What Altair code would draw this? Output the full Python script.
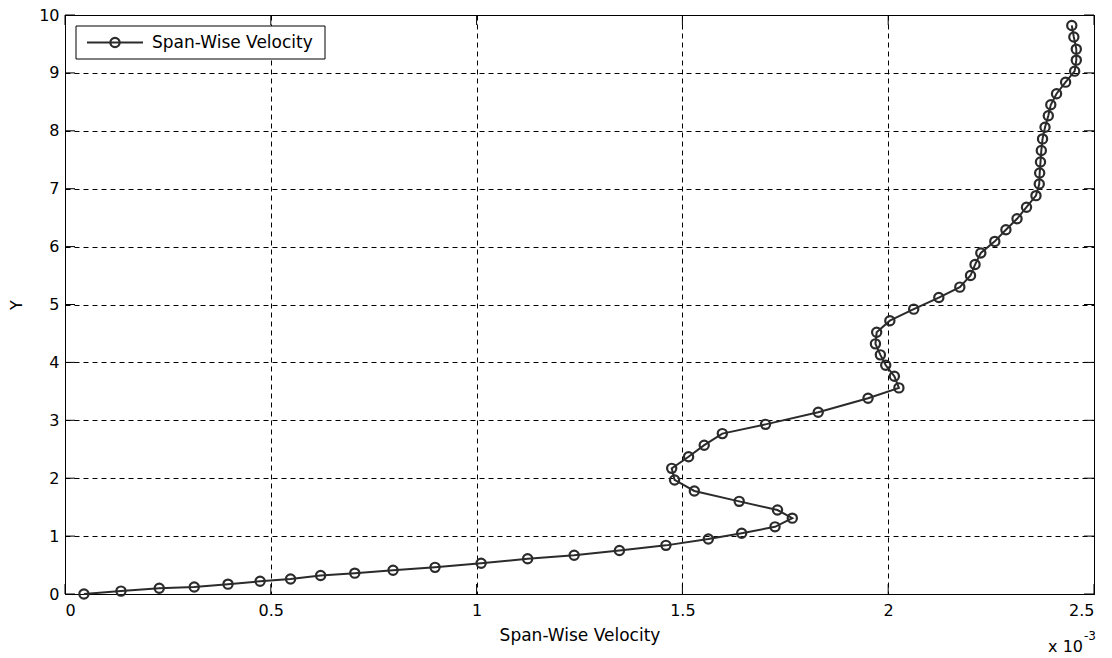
import altair as alt
import pandas as pd

# Span-wise velocity (in units of 1e-3) and Y, in path order
velocity = [0.046, 0.136, 0.229, 0.314, 0.396, 0.474, 0.548, 0.621, 0.704, 0.797,
            0.899, 1.011, 1.124, 1.237, 1.347, 1.460, 1.563, 1.644, 1.725, 1.767,
            1.731, 1.638, 1.529, 1.481, 1.474, 1.515, 1.553, 1.597, 1.702, 1.830,
            1.951, 2.026, 2.015, 1.994, 1.981, 1.969, 1.972, 2.004, 2.062, 2.123,
            2.174, 2.200, 2.211, 2.225, 2.259, 2.286, 2.313, 2.336, 2.359, 2.367,
            2.368, 2.370, 2.372, 2.375, 2.381, 2.389, 2.395, 2.409, 2.431, 2.453,
            2.457, 2.457, 2.451, 2.446]
y_vals = [0.00, 0.05, 0.10, 0.12, 0.17, 0.22, 0.26, 0.32, 0.36, 0.41,
          0.46, 0.53, 0.61, 0.67, 0.75, 0.84, 0.95, 1.05, 1.16, 1.31,
          1.45, 1.60, 1.78, 1.97, 2.17, 2.37, 2.57, 2.77, 2.93, 3.14,
          3.38, 3.56, 3.76, 3.95, 4.13, 4.32, 4.52, 4.72, 4.92, 5.12,
          5.30, 5.50, 5.69, 5.89, 6.09, 6.29, 6.48, 6.68, 6.88, 7.08,
          7.27, 7.46, 7.66, 7.86, 8.06, 8.26, 8.45, 8.64, 8.84, 9.03,
          9.22, 9.41, 9.62, 9.82]
x_ticks = [0, 0.5, 1, 1.5, 2, 2.5]
y_ticks = [0, 1, 2, 3, 4, 5, 6, 7, 8, 9, 10]
series_name = "Span-Wise Velocity"

W, H = 1029, 579
FONT = "DejaVu Sans"
INK = "#2b2b2b"

df = pd.DataFrame({"v": velocity, "y": y_vals, "i": list(range(len(velocity)))})
xt = pd.DataFrame({"t": x_ticks})
yt = pd.DataFrame({"t": y_ticks})
one = pd.DataFrame({"a": [0]})

xscale = alt.Scale(domain=[0, 2.5], nice=False, zero=False)
yscale = alt.Scale(domain=[0, 10], nice=False, zero=False)

x_axis = alt.Axis(values=x_ticks, labelExpr="'' + datum.value", grid=True,
                  gridDash=[5, 4], gridColor="black", gridOpacity=1, gridWidth=1,
                  tickSize=0, domain=False, labelPadding=8, titlePadding=9,
                  labelFont=FONT, labelFontSize=16, labelColor="black",
                  titleFont=FONT, titleFontSize=17, titleFontWeight="normal", titleColor="black")
y_axis = alt.Axis(values=y_ticks, format="d", grid=True,
                  gridDash=[5, 4], gridColor="black", gridOpacity=1, gridWidth=1,
                  tickSize=0, domain=False, labelPadding=6, titlePadding=14,
                  labelFont=FONT, labelFontSize=16, labelColor="black",
                  titleFont=FONT, titleFontSize=16, titleFontWeight="normal", titleColor="black")

base = alt.Chart(df).encode(
    x=alt.X("v:Q", scale=xscale, axis=x_axis, title="Span-Wise Velocity"),
    y=alt.Y("y:Q", scale=yscale, axis=y_axis, title="Y"),
    order="i:O",
)
line = base.mark_line(color=INK, strokeWidth=2)
pts = base.mark_point(shape="circle", filled=False, color=INK, size=85, strokeWidth=2.2, opacity=1)

# inward tick marks on all four sides
tb = alt.Chart(xt).mark_rule(color="black", strokeWidth=1).encode(
    x=alt.X("t:Q", scale=xscale), y=alt.value(H), y2=alt.value(H - 10))
tt = alt.Chart(xt).mark_rule(color="black", strokeWidth=1).encode(
    x=alt.X("t:Q", scale=xscale), y=alt.value(0), y2=alt.value(10))
tl = alt.Chart(yt).mark_rule(color="black", strokeWidth=1).encode(
    y=alt.Y("t:Q", scale=yscale), x=alt.value(0), x2=alt.value(10))
tr = alt.Chart(yt).mark_rule(color="black", strokeWidth=1).encode(
    y=alt.Y("t:Q", scale=yscale), x=alt.value(W), x2=alt.value(W - 10))

# legend
leg_box = alt.Chart(one).mark_rect(fill="white", stroke="black", strokeWidth=1).encode(
    x=alt.value(11), x2=alt.value(260), y=alt.value(11), y2=alt.value(44))
leg_line = alt.Chart(one).mark_rule(color=INK, strokeWidth=2).encode(
    x=alt.value(22), x2=alt.value(78), y=alt.value(27.5))
leg_pt = alt.Chart(one).mark_point(shape="circle", filled=False, color=INK, size=85,
                                   strokeWidth=2.2, opacity=1).encode(
    x=alt.value(50), y=alt.value(27.5))
leg_txt = alt.Chart(one).mark_text(text=series_name, font=FONT, fontSize=17, align="left",
                                   baseline="middle", color="black").encode(
    x=alt.value(87), y=alt.value(28))

# exponent note
exp_main = alt.Chart(one).mark_text(text="x 10", font=FONT, fontSize=16, align="right",
                                    baseline="alphabetic", color="black").encode(
    x=alt.value(1018), y=alt.value(637))
exp_sup = alt.Chart(one).mark_text(text="-3", font=FONT, fontSize=12, align="left",
                                   baseline="alphabetic", color="black").encode(
    x=alt.value(1019), y=alt.value(625))

chart = alt.layer(line, pts, tb, tt, tl, tr, leg_box, leg_line, leg_pt, leg_txt,
                  exp_main, exp_sup).properties(
    width=W, height=H,
    autosize=alt.AutoSizeParams(type="none"),
    padding={"left": 65, "top": 15, "right": 18, "bottom": 64},
    background="white",
).configure_view(stroke="black", strokeWidth=1)

chart.save("out.html", embed_options={"renderer": "svg", "actions": False})
